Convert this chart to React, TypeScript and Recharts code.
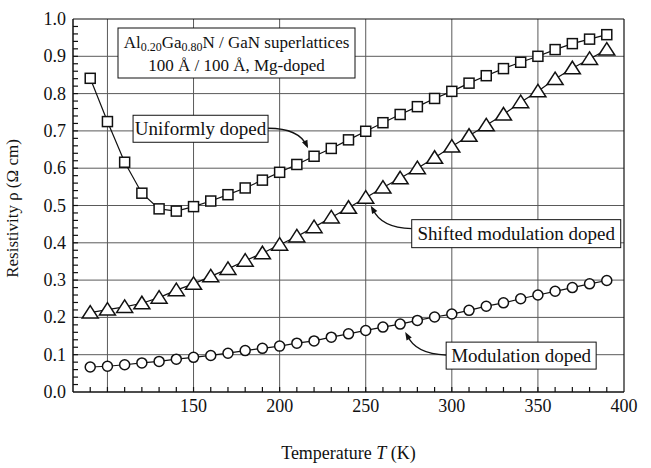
import React from 'react'
import {
  LineChart,
  Line,
  XAxis,
  YAxis,
  ReferenceLine,
  ReferenceDot,
} from 'recharts'

// temperature points (K)
const temps = [
  90, 100, 110, 120, 130, 140, 150, 160, 170, 180, 190, 200, 210, 220, 230, 240,
  250, 260, 270, 280, 290, 300, 310, 320, 330, 340, 350, 360, 370, 380, 390,
]

// resistivity (Ohm cm)
const uniform = [
  0.841, 0.725, 0.616, 0.533, 0.491, 0.485, 0.497, 0.512, 0.529, 0.547, 0.568,
  0.589, 0.61, 0.632, 0.653, 0.676, 0.699, 0.722, 0.744, 0.765, 0.787, 0.806,
  0.828, 0.848, 0.867, 0.884, 0.9, 0.918, 0.934, 0.946, 0.958,
]
const shifted = [
  0.213, 0.221, 0.228, 0.238, 0.253, 0.273, 0.29, 0.31, 0.33, 0.352, 0.372,
  0.395, 0.417, 0.442, 0.468, 0.494, 0.521, 0.548, 0.573, 0.6, 0.628, 0.658,
  0.687, 0.715, 0.744, 0.777, 0.806, 0.839, 0.868, 0.893, 0.918,
]
const modulation = [
  0.067, 0.069, 0.073, 0.078, 0.082, 0.088, 0.093, 0.098, 0.104, 0.111, 0.117,
  0.123, 0.131, 0.137, 0.147, 0.156, 0.165, 0.174, 0.182, 0.192, 0.201, 0.209,
  0.219, 0.23, 0.239, 0.25, 0.26, 0.27, 0.28, 0.29, 0.299,
]

const xTicks = [80, 90, 100, 110, 120, 130, 140, 150, 160, 170, 180, 190, 200, 210, 220, 230, 240, 250, 260, 270, 280, 290, 300, 310, 320, 330, 340, 350, 360, 370, 380, 390, 400]
const xLabelTicks = [150, 200, 250, 300, 350, 400]
const xGrid = [100, 150, 200, 250, 300, 350]
const yTicks = [0, 0.02, 0.04, 0.06, 0.08, 0.1, 0.12, 0.14, 0.16, 0.18, 0.2, 0.22, 0.24, 0.26, 0.28, 0.3, 0.32, 0.34, 0.36, 0.38, 0.4, 0.42, 0.44, 0.46, 0.48, 0.5, 0.52, 0.54, 0.56, 0.58, 0.6, 0.62, 0.64, 0.66, 0.68, 0.7, 0.72, 0.74, 0.76, 0.78, 0.8, 0.82, 0.84, 0.86, 0.88, 0.9, 0.92, 0.94, 0.96, 0.98, 1.0]
const yGrid = [0.1, 0.2, 0.3, 0.4, 0.5, 0.6, 0.7, 0.8, 0.9]

const data = temps.map((t, i) => ({
  t,
  uniform: uniform[i],
  shifted: shifted[i],
  modulation: modulation[i],
}))

const FONT = '"Liberation Serif", "Times New Roman", serif'
const INK = '#111'

function SquareDot(props: any) {
  const { cx, cy, index } = props
  if (cx == null || cy == null) return null
  return <rect key={`s${index}`} x={cx - 5} y={cy - 5} width={10} height={10} fill="#fff" stroke={INK} strokeWidth={1.5} />
}

function TriangleDot(props: any) {
  const { cx, cy, index } = props
  if (cx == null || cy == null) return null
  return (
    <polygon
      key={`t${index}`}
      points={`${cx},${cy - 7} ${cx - 8},${cy + 5.5} ${cx + 8},${cy + 5.5}`}
      fill="#fff"
      stroke={INK}
      strokeWidth={1.5}
    />
  )
}

function CircleDot(props: any) {
  const { cx, cy, index } = props
  if (cx == null || cy == null) return null
  return <circle key={`c${index}`} cx={cx} cy={cy} r={5} fill="#fff" stroke={INK} strokeWidth={1.5} />
}

function XTick(props: any) {
  const { x, y, payload } = props
  const v = payload.value
  return (
    <g>
      {v > 80 && v < 400 && <line x1={x} y1={y} x2={x} y2={y - 5} stroke={INK} strokeWidth={1.2} />}
      {xLabelTicks.includes(v) && (
        <text x={x} y={y + 20} textAnchor="middle" fontFamily={FONT} fontSize={18} fill={INK}>
          {v}
        </text>
      )}
    </g>
  )
}

function YTick(props: any) {
  const { x, y, payload } = props
  const v = payload.value
  const major = Math.abs(v * 10 - Math.round(v * 10)) < 1e-6
  return (
    <g>
      {v > 0 && v < 1 && <line x1={x} y1={y} x2={x + 5} y2={y} stroke={INK} strokeWidth={1.2} />}
      {major && (
        <text x={x - 7} y={y + 6} textAnchor="end" fontFamily={FONT} fontSize={18} fill={INK}>
          {v.toFixed(1)}
        </text>
      )}
    </g>
  )
}

// arrow + labelled box, positioned relative to the point it points at
function Callout(props: any) {
  const { cx, cy, text, box, path, tip } = props
  if (cx == null || cy == null) return null
  const [bx, by, bw, bh] = box
  const d = path(cx, cy)
  const [tx, ty, ang] = tip(cx, cy)
  return (
    <g>
      <path d={d} fill="none" stroke={INK} strokeWidth={1.3} />
      <polygon
        points="0,0 -8,-3 -8,3"
        fill={INK}
        transform={`translate(${tx},${ty}) rotate(${ang})`}
      />
      <rect x={cx + bx} y={cy + by} width={bw} height={bh} fill="#fff" stroke={INK} strokeWidth={1} />
      <text x={cx + bx + bw / 2} y={cy + by + bh / 2 + 6.5} textAnchor="middle" fontFamily={FONT} fontSize={19} fill={INK}>
        {text}
      </text>
    </g>
  )
}

function TitleBox(props: any) {
  const { cx, cy } = props
  if (cx == null || cy == null) return null
  const x = cx + 45
  const y = cy + 9
  return (
    <g fontFamily={FONT} fill={INK}>
      <rect x={x} y={y} width={237} height={50} fill="#fff" stroke={INK} strokeWidth={1} />
      <text x={x + 118.5} y={y + 20} textAnchor="middle" fontSize={17}>
        <tspan>Al</tspan>
        <tspan fontSize={12} dy={3}>0.20</tspan>
        <tspan dy={-3}>Ga</tspan>
        <tspan fontSize={12} dy={3}>0.80</tspan>
        <tspan dy={-3}>N / GaN superlattices</tspan>
      </text>
      <text x={x + 118.5} y={y + 43} textAnchor="middle" fontSize={17}>
        100 Å / 100 Å, Mg-doped
      </text>
    </g>
  )
}

function YLabel(props: any) {
  const { viewBox } = props
  const cx = 18
  const cy = viewBox.y + viewBox.height / 2 + 3
  return (
    <text
      x={cx}
      y={cy}
      transform={`rotate(-90 ${cx} ${cy})`}
      textAnchor="middle"
      fontFamily={FONT}
      fontSize={17}
      fill={INK}
    >
      Resistivity  ρ  (Ω cm)
    </text>
  )
}

function XLabel(props: any) {
  const { viewBox } = props
  const cx = viewBox.x + viewBox.width / 2
  return (
    <text x={cx} y={459} textAnchor="middle" fontFamily={FONT} fontSize={18} fill={INK}>
      Temperature  <tspan fontStyle="italic">T</tspan>  (K)
    </text>
  )
}

export default function App() {
  return (
    <div style={{ position: 'absolute', left: 0, top: 0, width: 651, height: 468, background: '#fff' }}>
      <LineChart
        width={651}
        height={468}
        data={data}
        margin={{ top: 19, right: 27, bottom: 46, left: 0 }}
      >
        <XAxis
          dataKey="t"
          type="number"
          domain={[80, 400]}
          ticks={xTicks}
          interval={0}
          tickSize={0}
          tickMargin={0}
          tick={<XTick />}
          axisLine={{ stroke: INK, strokeWidth: 1.5 }}
          label={<XLabel />}
        />
        <YAxis
          type="number"
          domain={[0, 1]}
          ticks={yTicks}
          interval={0}
          width={73}
          tickSize={0}
          tickMargin={0}
          tick={<YTick />}
          axisLine={{ stroke: INK, strokeWidth: 1.5 }}
          label={<YLabel />}
        />
        {xGrid.map((v) => (
          <ReferenceLine key={`gx${v}`} x={v} stroke="#5a5a5a" strokeWidth={1} />
        ))}
        {yGrid.map((v) => (
          <ReferenceLine key={`gy${v}`} y={v} stroke="#5a5a5a" strokeWidth={1} />
        ))}
        <ReferenceLine x={400} stroke={INK} strokeWidth={1.2} />
        <ReferenceLine y={1} stroke={INK} strokeWidth={1.2} />
        <Line
          dataKey="uniform"
          stroke={INK}
          strokeWidth={1.2}
          dot={SquareDot}
          activeDot={false}
          isAnimationActive={false}
        />
        <Line
          dataKey="shifted"
          stroke={INK}
          strokeWidth={1.2}
          dot={TriangleDot}
          activeDot={false}
          isAnimationActive={false}
        />
        <Line
          dataKey="modulation"
          stroke={INK}
          strokeWidth={1.2}
          dot={CircleDot}
          activeDot={false}
          isAnimationActive={false}
        />
        <ReferenceDot x={80} y={1} r={0} shape={(p: any) => <TitleBox {...p} />} />
        <ReferenceDot
          x={220}
          y={0.632}
          r={0}
          shape={(p: any) => (
            <Callout
              {...p}
              text="Uniformly doped"
              box={[-181, -41, 135, 27]}
              path={(cx: number, cy: number) => `M ${cx - 46} ${cy - 28} Q ${cx - 15} ${cy - 28} ${cx - 7} ${cy - 10}`}
              tip={(cx: number, cy: number) => [cx - 6, cy - 8, 65]}
            />
          )}
        />
        <ReferenceDot
          x={250}
          y={0.521}
          r={0}
          shape={(p: any) => (
            <Callout
              {...p}
              text="Shifted modulation doped"
              box={[46, 22, 209, 28]}
              path={(cx: number, cy: number) => `M ${cx + 46} ${cy + 31} Q ${cx + 15} ${cy + 30} ${cx + 7} ${cy + 11}`}
              tip={(cx: number, cy: number) => [cx + 5, cy + 8, -120]}
            />
          )}
        />
        <ReferenceDot
          x={270}
          y={0.182}
          r={0}
          shape={(p: any) => (
            <Callout
              {...p}
              text="Modulation doped"
              box={[46, 18, 150, 27]}
              path={(cx: number, cy: number) => `M ${cx + 46} ${cy + 31} Q ${cx + 15} ${cy + 30} ${cx + 7} ${cy + 11}`}
              tip={(cx: number, cy: number) => [cx + 5, cy + 8, -120]}
            />
          )}
        />
      </LineChart>
    </div>
  )
}
